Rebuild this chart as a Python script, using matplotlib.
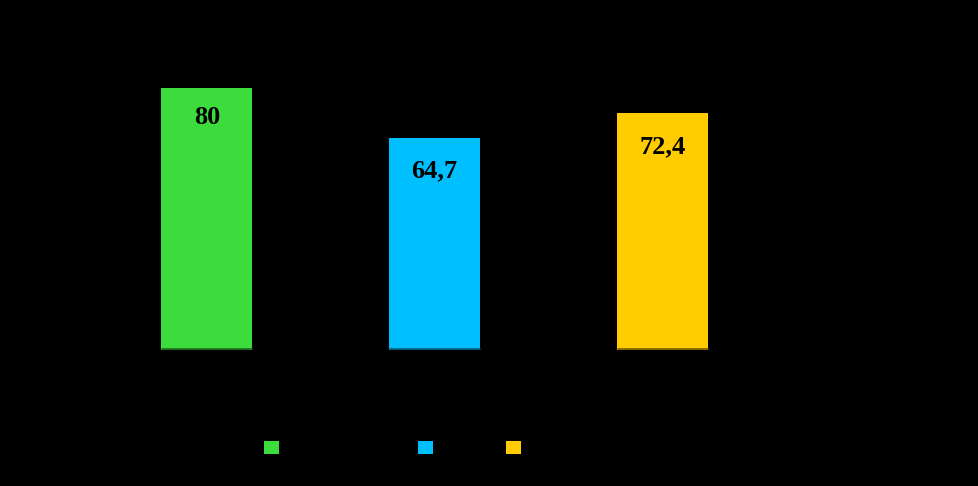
import matplotlib.pyplot as plt
from matplotlib.patches import Patch

categories = ["Група 1", "Група 2", "Група 3"]
values = [80, 64.7, 72.4]
value_labels = ["80", "64,7", "72,4"]
colors = ["#3cdc3c", "#00bfff", "#ffcc00"]
edge_colors = ["#1f6e1f", "#005f80", "#806600"]

W, H = 979, 486
fig = plt.figure(figsize=(W / 100, H / 100), dpi=100, facecolor="black")
ax = fig.add_axes([93 / W, 1 - 350 / H, 683 / W, 327.5 / H])
ax.set_facecolor("black")

x = list(range(len(categories)))
ax.bar(x, values, width=0.4, color=colors, linewidth=0)
for xi, c in zip(x, edge_colors):
    ax.hlines(0.3, xi - 0.2, xi + 0.2, colors=c, linewidth=2)

offsets = [-9, -10, -10.5]
for xi, v, lab, off in zip(x, values, value_labels, offsets):
    ax.text(xi, v + off, lab, ha="center", va="center", fontsize=19,
            fontweight="bold", family="Liberation Serif", color="black")

ax.set_xlim(-0.5, 2.5)
ax.set_ylim(0, 100)
ax.axis("off")

# legend entries sit at uneven spacing (their texts are black on black)
legend_x = [264, 418, 506]
for lx, lab, c in zip(legend_x, categories, colors):
    leg = fig.legend([Patch(facecolor=c, edgecolor="none")], [lab], loc="center left",
                     bbox_to_anchor=(lx / W, 1 - 448.5 / H), frameon=False,
                     handlelength=0.95, handleheight=0.95, handletextpad=0.5,
                     borderpad=0, borderaxespad=0, fontsize=11)
    for t in leg.get_texts():
        t.set_color("black")

fig.savefig("out.png", dpi=100, facecolor="black")
